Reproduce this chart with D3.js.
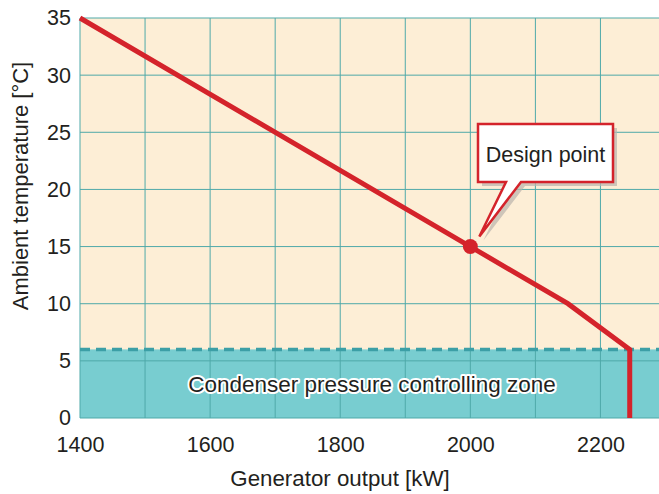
<!DOCTYPE html>
<html>
<head>
<meta charset="utf-8">
<script src="https://cdn.jsdelivr.net/npm/d3@7"></script>
<style>
body { margin: 0; background: #fff; }
text { font-family: "Liberation Sans", Arial, sans-serif; fill: #231f20; }
</style>
</head>
<body>
<script>
let width = 659;
let height = 494;

// curve of the chart
let outputKW = [1400, 2000, 2150, 2245, 2245];
let tempC = [35, 15, 10, 6, 0];
let designPoint = [2000, 15];
let zoneTop = 6;
let xTicks = [1400, 1600, 1800, 2000, 2200];
let yTicks = [0, 5, 10, 15, 20, 25, 30, 35];
let xGrid = d3.range(1400, 2300, 100);

let margin = {left: 80, right: 0, top: 18, bottom: 76};
let fs = 21.5;

let x = d3.scaleLinear()
.domain([1400, 2290])
.range([margin.left, width - margin.right]);

let y = d3.scaleLinear()
.domain([0, 35])
.range([height - margin.bottom, margin.top]);

let svg = d3.select('body')
.append('svg')
.attr('width', width)
.attr('height', height);

// background and zone
svg.append('rect')
.attr('x', x(1400)).attr('y', y(35))
.attr('width', x(2290) - x(1400)).attr('height', y(0) - y(35))
.attr('fill', '#fdeed6');

svg.append('rect')
.attr('x', x(1400)).attr('y', y(zoneTop))
.attr('width', x(2290) - x(1400)).attr('height', y(0) - y(zoneTop))
.attr('fill', '#78cdd0');

let grid = svg.append('g')
.attr('stroke', '#4fa9a9')
.attr('stroke-width', 1);

grid.selectAll('.vx')
.data(xGrid)
.enter()
.append('line')
.attr('x1', d => x(d)).attr('x2', d => x(d))
.attr('y1', y(0)).attr('y2', y(35));

grid.selectAll('.hy')
.data(yTicks)
.enter()
.append('line')
.attr('x1', x(1400)).attr('x2', x(2290))
.attr('y1', d => y(d)).attr('y2', d => y(d));

// dashed boundary of the zone
svg.append('line')
.attr('x1', x(1400)).attr('x2', x(2290))
.attr('y1', y(zoneTop)).attr('y2', y(zoneTop))
.attr('stroke', '#3c9fa6')
.attr('stroke-width', 3.5)
.attr('stroke-dasharray', '10,6');

svg.append('text')
.attr('x', 372).attr('y', 392)
.attr('text-anchor', 'middle')
.attr('font-size', 22.5)
.attr('stroke', '#fff')
.attr('stroke-width', 4)
.attr('stroke-linejoin', 'round')
.attr('paint-order', 'stroke')
.text('Condenser pressure controlling zone');

// axes
let xAxis = d3.axisBottom(x).tickValues(xTicks).tickFormat(d3.format('d')).tickSize(0).tickPadding(19);
let gx = svg.append('g')
.attr('transform', 'translate(0,' + y(0) + ')')
.call(xAxis);
gx.select('.domain').remove();
gx.selectAll('text').attr('font-size', fs).attr('dy', '0.71em');

let yAxis = d3.axisLeft(y).tickValues(yTicks).tickSize(0).tickPadding(9);
let gy = svg.append('g')
.attr('transform', 'translate(' + x(1400) + ',0)')
.call(yAxis);
gy.select('.domain').remove();
gy.selectAll('text').attr('font-size', fs);

svg.append('text')
.attr('x', 340).attr('y', 486)
.attr('text-anchor', 'middle')
.attr('font-size', 22.3)
.text('Generator output [kW]');

svg.append('text')
.attr('transform', 'translate(28,186) rotate(-90)')
.attr('text-anchor', 'middle')
.attr('font-size', 22)
.text('Ambient temperature [\u00b0C]');

// curve
let line = d3.line()
.x((d, i) => x(outputKW[i]))
.y((d, i) => y(tempC[i]));

svg.append('path')
.attr('d', line(outputKW))
.attr('fill', 'none')
.attr('stroke', '#d4232b')
.attr('stroke-width', 5);

svg.append('circle')
.attr('cx', x(designPoint[0]))
.attr('cy', y(designPoint[1]))
.attr('r', 7.5)
.attr('fill', '#d4232b');

// callout
let bx = 478, by = 124, bw = 135, bh = 58;
let tip = [x(designPoint[0]) + 9, y(designPoint[1]) - 10];
let callout = 'M' + bx + ',' + by + 'h' + bw + 'v' + bh + 'H521L' + tip[0] + ',' + tip[1] + 'L506,' + (by + bh) + 'H' + bx + 'Z';

svg.append('path')
.attr('d', callout)
.attr('transform', 'translate(4,4)')
.attr('fill', '#b9b4ad')
.attr('opacity', 0.7);

svg.append('path')
.attr('d', callout)
.attr('fill', '#fff')
.attr('stroke', '#d4232b')
.attr('stroke-width', 2.5)
.attr('stroke-linejoin', 'miter');

svg.append('text')
.attr('x', bx + bw / 2).attr('y', by + 38)
.attr('text-anchor', 'middle')
.attr('font-size', fs)
.text('Design point');
</script>
</body>
</html>
